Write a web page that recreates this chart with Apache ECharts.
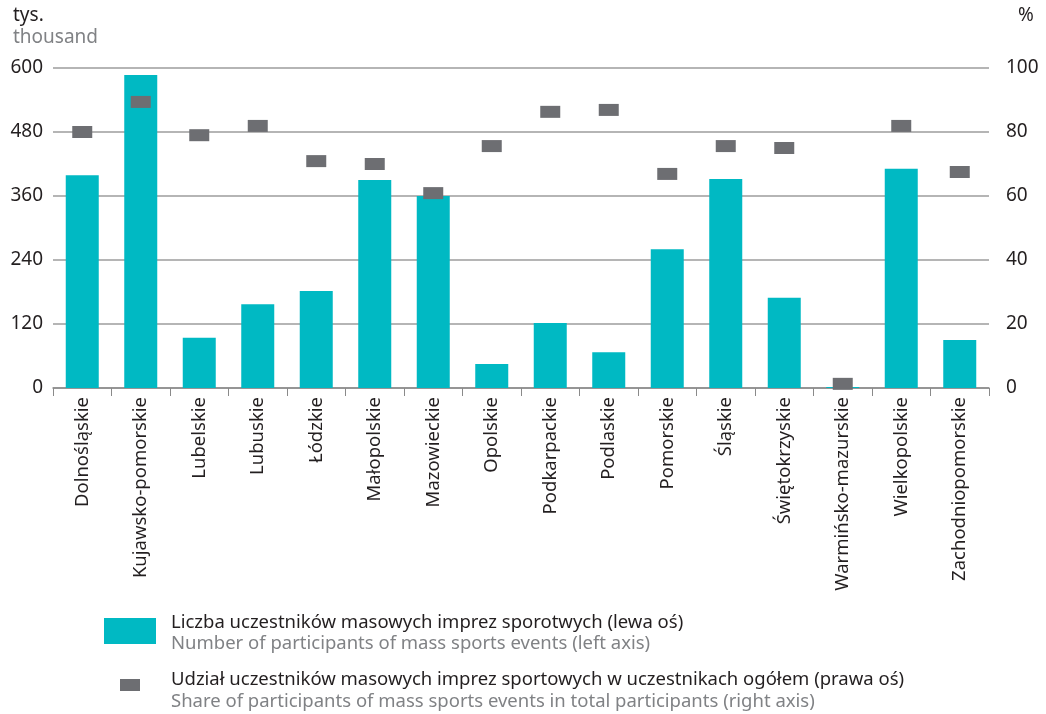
<!DOCTYPE html>
<html>
<head>
<meta charset="utf-8">
<script src="https://cdn.jsdelivr.net/npm/echarts@6/dist/echarts.min.js"></script>
<style>html,body{margin:0;padding:0;background:#fff;}#c{width:1046px;height:714px;}</style>
</head>
<body>
<div id="c"></div>
<script>
const categories = ['Dolnośląskie','Kujawsko-pomorskie','Lubelskie','Lubuskie','Łódzkie','Małopolskie','Mazowieckie','Opolskie','Podkarpackie','Podlaskie','Pomorskie','Śląskie','Świętokrzyskie','Warmińsko-mazurskie','Wielkopolskie','Zachodniopomorskie'];
const participants = [399, 587, 94, 157, 182, 390, 360, 45, 122, 67, 260, 392, 169, 2, 411, 90];
const sharePct = [80, 89.4, 79, 81.9, 70.9, 70, 60.9, 75.6, 86.3, 86.9, 66.9, 75.6, 75, 1.3, 81.9, 67.5];
const leftTicks = [0, 120, 240, 360, 480, 600];
const rightTicks = [0, 20, 40, 60, 80, 100];
const legendLabels = [
  ['Liczba uczestników masowych imprez sporotwych (lewa oś)', 'Number of participants of mass sports events (left axis)'],
  ['Udział uczestników masowych imprez sportowych w uczestnikach ogółem (prawa oś)', 'Share of participants of mass sports events in total participants (right axis)']
];

const FONT = 'Noto Sans';
const BLACK = '#231f20';
const GREY = '#808285';
const TEAL = '#00b9c3';
const DARK = '#6d6e72';
const FS = 18.5;

const chart = echarts.init(document.getElementById('c'), null, {renderer: 'canvas'});
chart.setOption({
  animation: false,
  textStyle: {fontFamily: FONT},
  grid: {left: 53, right: 57, top: 68, bottom: 326},
  xAxis: {
    type: 'category',
    data: categories,
    axisLine: {lineStyle: {color: '#8a8a8a', width: 1.5}},
    axisTick: {show: true, length: 8, lineStyle: {color: '#8a8a8a'}, alignWithLabel: false},
    axisLabel: {rotate: 90, interval: 0, fontSize: FS, color: BLACK, margin: 9, fontFamily: FONT}
  },
  yAxis: [
    {
      type: 'value', min: leftTicks[0], max: leftTicks[leftTicks.length-1], interval: 120,
      axisLine: {show: false}, axisTick: {show: false},
      splitLine: {lineStyle: {color: '#9d9d9d', width: 1.5}},
      axisLabel: {fontSize: 19, color: BLACK, margin: 10, fontFamily: FONT}
    },
    {
      type: 'value', min: rightTicks[0], max: rightTicks[rightTicks.length-1], interval: 20,
      axisLine: {show: false}, axisTick: {show: false},
      splitLine: {show: false},
      axisLabel: {fontSize: 19, color: BLACK, margin: 17, fontFamily: FONT}
    }
  ],
  series: [
    {
      type: 'bar', data: participants, barWidth: 33, yAxisIndex: 0,
      itemStyle: {color: TEAL}, z: 2
    },
    {
      type: 'scatter', data: sharePct, yAxisIndex: 1, symbol: 'rect', symbolSize: [20, 12],
      itemStyle: {color: DARK, opacity: 1}, z: 3
    }
  ],
  graphic: [
    {type: 'text', x: 13, y: 16, style: {text: 'tys.', fontSize: 19, fill: BLACK, fontFamily: FONT, verticalAlign: 'middle'}},
    {type: 'text', x: 13, y: 38, style: {text: 'thousand', fontSize: 19, fill: GREY, fontFamily: FONT, verticalAlign: 'middle'}},
    {type: 'text', x: 1018, y: 16, style: {text: '%', fontSize: 19, fill: BLACK, fontFamily: FONT, verticalAlign: 'middle'}},
    {type: 'rect', shape: {x: 104, y: 618, width: 52, height: 26}, style: {fill: TEAL}},
    {type: 'text', x: 171, y: 623, style: {text: legendLabels[0][0], fontSize: FS, fill: BLACK, fontFamily: FONT, verticalAlign: 'middle'}},
    {type: 'text', x: 171, y: 644, style: {text: legendLabels[0][1], fontSize: FS, fill: GREY, fontFamily: FONT, verticalAlign: 'middle'}},
    {type: 'rect', shape: {x: 120, y: 679, width: 20, height: 12}, style: {fill: DARK}},
    {type: 'text', x: 171, y: 680, style: {text: legendLabels[1][0], fontSize: FS, fill: BLACK, fontFamily: FONT, verticalAlign: 'middle'}},
    {type: 'text', x: 171, y: 702, style: {text: legendLabels[1][1], fontSize: FS, fill: GREY, fontFamily: FONT, verticalAlign: 'middle'}}
  ]
});
</script>
</body>
</html>
